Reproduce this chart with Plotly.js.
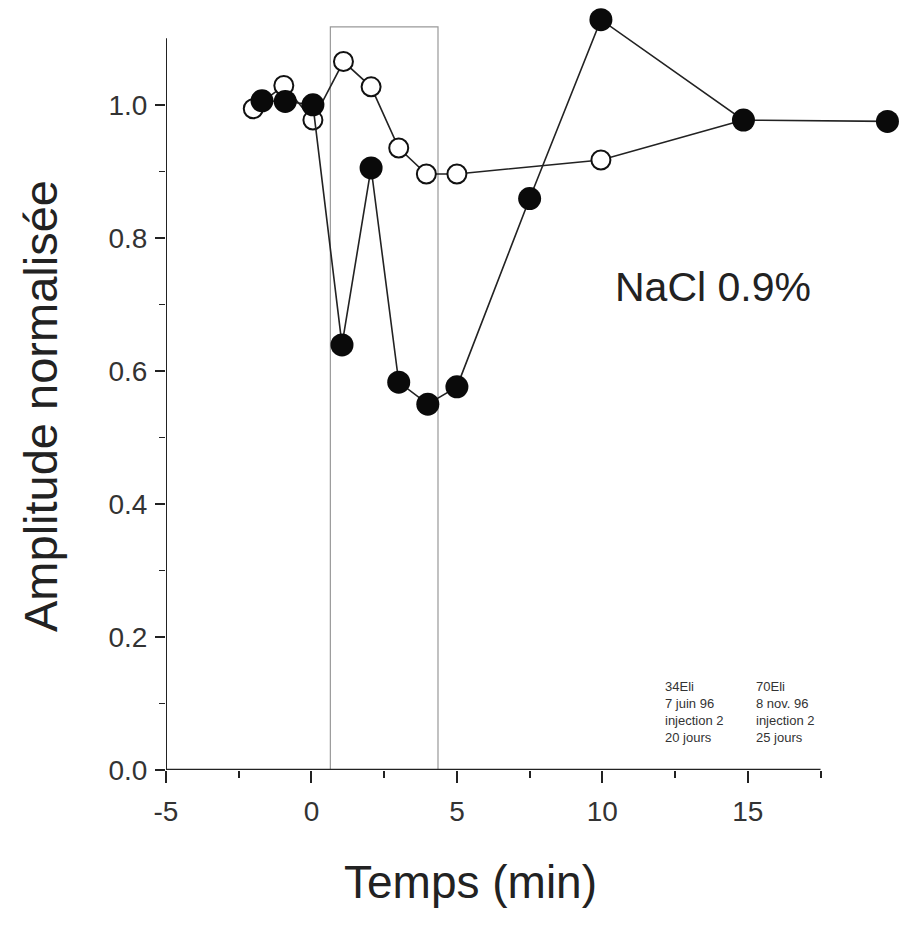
<!DOCTYPE html>
<html>
<head>
<meta charset="utf-8">
<script src="https://cdn.plot.ly/plotly-3.0.1.min.js"></script>
<style>html,body{margin:0;padding:0;background:#fff;}#chart{width:902px;height:928px;}</style>
</head>
<body>
<div id="chart"></div>
<script>
// Open circles series
const openTime = [-2.0, -0.95, 0.05, 1.1, 2.05, 3.0, 3.95, 5.0, 9.95, 14.85];
const openAmp  = [0.994, 1.029, 0.977, 1.065, 1.027, 0.935, 0.896, 0.896, 0.917, 0.977];
// Filled circles series
const filledTime = [-1.7, -0.9, 0.05, 1.05, 2.05, 3.0, 4.0, 5.0, 7.5, 9.95, 14.85, 19.8];
const filledAmp  = [1.006, 1.005, 1.0, 0.639, 0.905, 0.583, 0.550, 0.576, 0.859, 1.128, 0.977, 0.975];
// Axis ticks
const xMajorTicks = [-5, 0, 5, 10, 15];
const xTickLabels = ['-5', '0', '5', '10', '15'];
const xMinorTicks = [-2.5, 2.5, 7.5, 12.5, 17.5];
const yMajorTicks = [0, 0.2, 0.4, 0.6, 0.8, 1.0];
const yTickLabels = ['0.0', '0.2', '0.4', '0.6', '0.8', '1.0'];
const yMinorTicks = [0.1, 0.3, 0.5, 0.7, 0.9];
// Injection window
const windowStart = 0.65, windowEnd = 4.35, windowTop = 1.117;
const legendLeft = ['34Eli', '7 juin 96', 'injection 2', '20 jours'];
const legendRight = ['70Eli', '8 nov. 96', 'injection 2', '25 jours'];

const lineStyle = {color: '#222', width: 1.6};
const traces = [
  {x: openTime, y: openAmp, type: 'scatter', mode: 'lines+markers', cliponaxis: false,
   line: lineStyle, marker: {size: 19, color: '#fff', line: {color: '#111', width: 2}}},
  {x: filledTime, y: filledAmp, type: 'scatter', mode: 'lines+markers', cliponaxis: false,
   line: lineStyle, marker: {size: 23, color: '#0a0a0a', line: {color: '#0a0a0a', width: 0}}}
];

const font = {family: 'Liberation Sans, Arial, sans-serif', color: '#222'};
const layout = {
  width: 902, height: 928,
  margin: {l: 166, r: 0, t: 5, b: 158},
  paper_bgcolor: '#fff', plot_bgcolor: '#fff',
  showlegend: false,
  font: font,
  xaxis: {
    range: [-5, 20.3], showgrid: false, zeroline: false, showline: false,
    tickmode: 'array', tickvals: xMajorTicks, ticktext: xTickLabels, ticks: 'outside', ticklen: 12, tickwidth: 2, tickcolor: '#222',
    tickfont: {size: 28, color: '#333', family: font.family},
    ticklabelstandoff: 4,
    minor: {tickmode: 'array', tickvals: xMinorTicks, ticks: 'outside', ticklen: 7, tickwidth: 2, tickcolor: '#222'}
  },
  yaxis: {
    range: [0, 1.15], showgrid: false, zeroline: false, showline: false,
    tickmode: 'array', tickvals: yMajorTicks, ticktext: yTickLabels, ticks: 'outside', ticklen: 10, tickwidth: 1.5, tickcolor: '#222',
    tickfont: {size: 28, color: '#333', family: font.family},
    ticklabelstandoff: 2,
    minor: {tickmode: 'array', tickvals: yMinorTicks, ticks: 'outside', ticklen: 6, tickwidth: 1.5, tickcolor: '#222'}
  },
  shapes: [
    {type: 'line', xref: 'x', yref: 'y', x0: -5, x1: -5, y0: 0, y1: 1.1, line: {color: '#222', width: 2}},
    {type: 'line', xref: 'x', yref: 'y', x0: -5.4, x1: 17.5, y0: 0, y1: 0, line: {color: '#222', width: 2.5}},
    {type: 'rect', xref: 'x', yref: 'y', x0: windowStart, x1: windowEnd, y0: 0, y1: windowTop, line: {color: '#999', width: 1.2}, layer: 'below'}
  ],
  annotations: [
    {xref: 'paper', yref: 'paper', x: (713 - 166) / 736, y: (770 - 287) / 765, xanchor: 'center', yanchor: 'middle',
     text: 'NaCl 0.9%', showarrow: false, font: {size: 41, color: '#222', family: font.family}},
    {xref: 'paper', yref: 'paper', x: (470 - 166) / 736, y: (770 - 882) / 765, xanchor: 'center', yanchor: 'middle',
     text: 'Temps (min)', showarrow: false, font: {size: 46, color: '#222', family: font.family}},
    {xref: 'paper', yref: 'paper', x: (40 - 166) / 736, y: (770 - 406) / 765, xanchor: 'center', yanchor: 'middle', textangle: -90,
     text: 'Amplitude normalisée', showarrow: false, font: {size: 47, color: '#222', family: font.family}},
    {xref: 'x', yref: 'y', x: 12.1, y: 0.14, xanchor: 'left', yanchor: 'top', align: 'left', showarrow: false,
     text: legendLeft.join('<br>'), font: {size: 13, color: '#333', family: font.family}},
    {xref: 'x', yref: 'y', x: 15.2, y: 0.14, xanchor: 'left', yanchor: 'top', align: 'left', showarrow: false,
     text: legendRight.join('<br>'), font: {size: 13, color: '#333', family: font.family}}
  ]
};
Plotly.newPlot('chart', traces, layout, {displayModeBar: false, staticPlot: true});
</script>
</body>
</html>
